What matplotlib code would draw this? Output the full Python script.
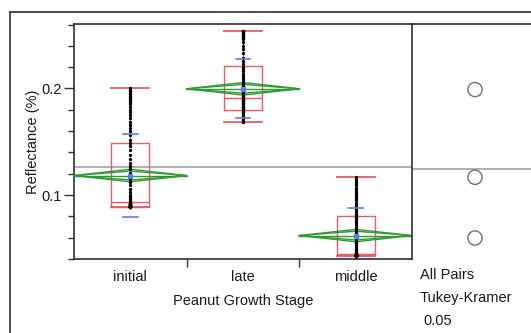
import matplotlib
matplotlib.use("Agg")
import matplotlib.pyplot as plt
from matplotlib.lines import Line2D
import numpy as np

plt.rcParams['font.family'] = ['Liberation Sans', 'DejaVu Sans']

# ---------------- data ----------------
categories = ["initial", "late", "middle"]

initial_pts = [0.200, 0.199, 0.198, 0.196, 0.195, 0.193, 0.191, 0.189, 0.187, 0.185,
               0.183, 0.180, 0.178, 0.175, 0.172, 0.169, 0.166, 0.163, 0.160, 0.156,
               0.152, 0.149, 0.146, 0.142, 0.138, 0.134, 0.130, 0.127, 0.124, 0.121,
               0.118, 0.115, 0.112, 0.109, 0.106, 0.103, 0.100, 0.098, 0.096, 0.094,
               0.093, 0.093, 0.093, 0.092, 0.092, 0.092, 0.092, 0.091, 0.091, 0.091,
               0.091, 0.091, 0.090, 0.090, 0.090, 0.090, 0.090, 0.090, 0.090, 0.089,
               0.089, 0.089, 0.089, 0.089, 0.089, 0.089, 0.089, 0.089, 0.089, 0.089]
late_pts = [0.254, 0.2535, 0.253, 0.2525, 0.252, 0.251, 0.250, 0.249, 0.248, 0.247,
            0.246, 0.244, 0.240, 0.237, 0.233, 0.229, 0.226, 0.223, 0.220, 0.218,
            0.216, 0.214, 0.212, 0.210, 0.208, 0.206, 0.205, 0.204, 0.203, 0.202,
            0.201, 0.200, 0.199, 0.198, 0.196, 0.195, 0.193, 0.192, 0.191, 0.1905,
            0.190, 0.1895, 0.189, 0.188, 0.187, 0.186, 0.185, 0.184, 0.183, 0.182,
            0.181, 0.180, 0.179, 0.178, 0.177, 0.175, 0.173, 0.172, 0.171, 0.170,
            0.169]
middle_pts = [0.117, 0.115, 0.113, 0.111, 0.109, 0.107, 0.105, 0.103, 0.101, 0.099,
              0.097, 0.095, 0.093, 0.091, 0.089, 0.087, 0.085, 0.083, 0.081, 0.079,
              0.078, 0.076, 0.074, 0.072, 0.070, 0.068, 0.066, 0.064, 0.062, 0.060,
              0.058, 0.056, 0.055, 0.053, 0.051, 0.049, 0.048, 0.047, 0.046, 0.0455,
              0.045, 0.045, 0.045, 0.045, 0.044, 0.044, 0.044, 0.044, 0.044, 0.044,
              0.044, 0.044, 0.044, 0.044, 0.043, 0.043, 0.043, 0.043, 0.043, 0.043,
              0.043, 0.043, 0.043, 0.043, 0.043, 0.043, 0.043, 0.043, 0.043, 0.043]
points = [initial_pts, late_pts, middle_pts]

# box-plot summaries
whisker_lo = [0.0892, 0.1685, 0.0430]
q1 = [0.0892, 0.1799, 0.0435]
median = [0.0932, 0.1914, 0.0450]
q3 = [0.1487, 0.2207, 0.0800]
whisker_hi = [0.2000, 0.2543, 0.1170]

# means diamonds
means = [0.1183, 0.1997, 0.0620]
ci_half = [0.0059, 0.0059, 0.0058]
sd = [0.0390, 0.0275, 0.0257]

grand_mean = 0.1264

# ---------------- figure ----------------
W, H = 531, 333
fig = plt.figure(figsize=(W / 100, H / 100), dpi=100)

def fx(px):
    return px / W

def fy(py):
    return 1 - py / H

ax = fig.add_axes([fx(74), fy(259), fx(412) - fx(74), fy(24) - fy(259)])
axr = fig.add_axes([fx(412), fy(259), 0.3, fy(24) - fy(259)])

red = "#ec5a66"
green = "#2e9a32"
blue = "#5a7ff0"
gray = "#9a9a9a"
dark = "#303030"
txt = "#1a1a1a"

ylim = (0.0425, 0.2605)
ax.set_ylim(*ylim)
ax.set_xlim(-0.5, 2.5)
xpos = np.arange(len(categories))

# grand mean line
ax.axhline(grand_mean, color=gray, lw=1.1, zorder=1)

# boxes
stats = []
for i in range(len(categories)):
    stats.append(dict(med=median[i], q1=q1[i], q3=q3[i],
                      whislo=whisker_lo[i], whishi=whisker_hi[i], fliers=[]))
ax.bxp(stats, positions=xpos, widths=0.34, showfliers=False,
       capwidths=0.34,
       boxprops=dict(color=red, lw=1.0),
       medianprops=dict(color=red, lw=1.0),
       whiskerprops=dict(color=red, lw=1.0),
       capprops=dict(color=red, lw=1.3),
       manage_ticks=False, zorder=2)

# means diamonds
for i, x in enumerate(xpos):
    m, c = means[i], ci_half[i]
    for h in (c, c / np.sqrt(2)):
        ax.plot([x - 0.5, x, x + 0.5, x, x - 0.5], [m, m + h, m, m - h, m],
                color=green, lw=1.0, zorder=3, clip_on=False)
    ax.plot([x - 0.5, x + 0.5], [m, m], color=green, lw=1.0, zorder=3)

# points
for i, x in enumerate(xpos):
    ax.plot([x] * len(points[i]), points[i], ls="none", marker="o",
            ms=1.4, color="black", zorder=4)

# sd marks and mean markers
for i, x in enumerate(xpos):
    for v in (means[i] - sd[i], means[i] + sd[i]):
        ax.plot([x - 0.065, x + 0.065], [v, v], color=blue, lw=1.2, zorder=5)
    ax.plot([x], [means[i]], ls="none", marker="s", ms=3, color=blue, zorder=5)

# axes styling
ax.spines["right"].set_visible(False)
for s in ("left", "top", "bottom"):
    ax.spines[s].set_color(dark)
    ax.spines[s].set_linewidth(1.2)

ax.set_yticks([0.1, 0.2])
ax.set_yticklabels(["0.1", "0.2"])
ax.set_yticks(np.arange(0.04, 0.261, 0.02), minor=True)
ax.tick_params(axis="y", which="major", length=7, width=1, color=dark,
               labelsize=10.5, pad=2, labelcolor=txt)
ax.tick_params(axis="y", which="minor", length=4, width=1, color=dark)

ax.set_xticks(xpos)
ax.set_xticklabels(categories)
ax.set_xticks([0.5, 1.5], minor=True)
ax.tick_params(axis="x", which="major", length=0, labelsize=10.5, pad=8,
               labelcolor=txt)
ax.tick_params(axis="x", which="minor", length=6, width=1, color=dark)

ax.set_ylabel("Reflectance (%)", fontsize=10.5, color=txt, labelpad=1)
ax.set_xlabel("Peanut Growth Stage", fontsize=10.5, color=txt, labelpad=7)

# right panel: comparison circles (x in pixel units from panel's left edge)
axr.set_ylim(*ylim)
axr.set_xlim(0, 0.3 * W)
axr.axhline(grand_mean, color=gray, lw=1.1, zorder=1)
axr.scatter([475 - 412] * len(means), means, s=105, facecolors="none",
            edgecolors="#707070", linewidths=1.0, zorder=3)
axr.set_xticks([])
axr.set_yticks([])
axr.spines["bottom"].set_visible(False)
axr.spines["right"].set_visible(False)
for s in ("left", "top"):
    axr.spines[s].set_color(dark)
    axr.spines[s].set_linewidth(1.2)

fig.text(fx(420), fy(275), "All Pairs", fontsize=10.5, va="center", ha="left", color=txt)
fig.text(fx(420), fy(298), "Tukey-Kramer", fontsize=10.5, va="center", ha="left", color=txt)
fig.text(fx(423), fy(321), "0.05", fontsize=10.5, va="center", ha="left", color=txt)

# outer frame
fig.add_artist(Line2D([fx(10), fx(10)], [fy(12), 0], color=dark, lw=1.2))
fig.add_artist(Line2D([fx(10), 1], [fy(12), fy(12)], color=dark, lw=1.2))

fig.savefig("out.png", dpi=100)
